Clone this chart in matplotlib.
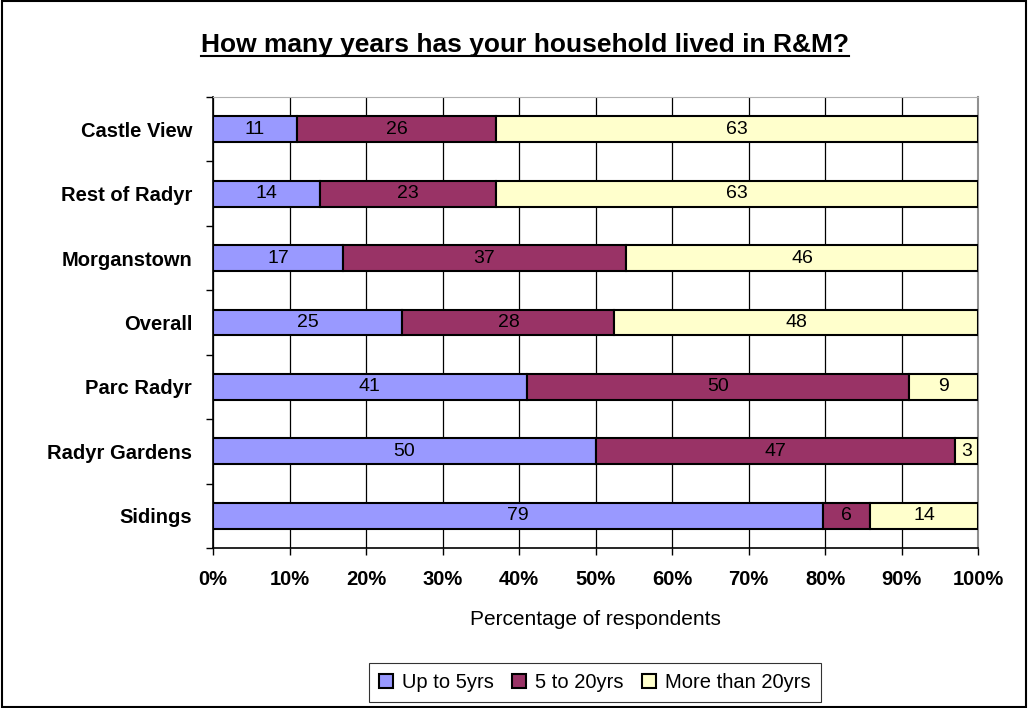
import matplotlib.pyplot as plt
import numpy as np
from matplotlib.patches import Rectangle

plt.rcParams['font.family'] = ['Liberation Sans', 'DejaVu Sans']

areas = ["Castle View", "Rest of Radyr", "Morganstown", "Overall",
         "Parc Radyr", "Radyr Gardens", "Sidings"]
up_to_5 = [11, 14, 17, 25, 41, 50, 79]
five_to_20 = [26, 23, 37, 28, 50, 47, 6]
more_than_20 = [63, 63, 46, 48, 9, 3, 14]
series_names = ["Up to 5yrs", "5 to 20yrs", "More than 20yrs"]
colours = ["#9999FF", "#993366", "#FFFFCC"]

fig = plt.figure(figsize=(10.28, 7.08), dpi=100)
ax = fig.add_axes([0.2072, 0.226, 0.7442, 0.637])

data = np.array([up_to_5, five_to_20, more_than_20], dtype=float)
frac = data / data.sum(axis=0) * 100
y = np.arange(len(areas))

left = np.zeros(len(areas))
for vals, pct, name, col in zip(data, frac, series_names, colours):
    bars = ax.barh(y, pct, left=left, height=0.4, color=col,
                   edgecolor="black", linewidth=1.5, label=name, zorder=3)
    for b, v in zip(bars, vals):
        ax.text(b.get_x() + b.get_width() / 2, b.get_y() + b.get_height() / 2,
                f"{int(v)}", ha="center", va="center", fontsize=14, zorder=4)
    left += pct

ax.set_xlim(0, 100)
ax.set_ylim(len(areas) - 0.5, -0.5)
ax.set_xticks(np.arange(0, 101, 10))
ax.set_xticklabels([f"{t}%" for t in range(0, 101, 10)],
                   fontweight="bold", fontsize=14.5)
ax.set_yticks(y)
ax.set_yticklabels(areas, fontweight="bold", fontsize=14.5)
ax.set_yticks(np.arange(-0.5, len(areas), 1), minor=True)
ax.tick_params(axis="y", which="major", length=0, pad=15)
ax.tick_params(axis="y", which="minor", length=5, width=1, direction="out")
ax.tick_params(axis="x", length=5, width=1, pad=11)
ax.grid(axis="x", color="black", linewidth=0.9, zorder=0)

ax.spines["left"].set_linewidth(1.2)
ax.spines["bottom"].set_linewidth(1.2)
ax.spines["top"].set_color("#B0B0B0")
ax.spines["right"].set_color("#909090")
ax.spines["right"].set_linewidth(1.5)

ax.set_xlabel("Percentage of respondents", fontsize=15, labelpad=15)

leg = fig.legend(loc="center", bbox_to_anchor=(0.5785, 0.0365), ncol=3,
                 fontsize=14.5, frameon=True, fancybox=False, edgecolor="black",
                 handlelength=0.7, handleheight=0.7, handletextpad=0.45,
                 columnspacing=0.9, borderpad=0.5)
leg.get_frame().set_linewidth(0.8)

title = fig.text(0.511, 0.936, "How many years has your household lived in R&M?",
                 ha="center", va="center", fontsize=19, fontweight="bold")
fig.canvas.draw()
bb = title.get_window_extent().transformed(fig.transFigure.inverted())
fig.add_artist(plt.Line2D([bb.x0, bb.x1], [bb.y0 + 0.002, bb.y0 + 0.002],
                          color="black", linewidth=1.5, transform=fig.transFigure))

fig.add_artist(Rectangle((0.002, 0.002), 0.996, 0.996, transform=fig.transFigure,
                         fill=False, edgecolor="black", linewidth=1.5))

fig.savefig("out.png", dpi=100)
